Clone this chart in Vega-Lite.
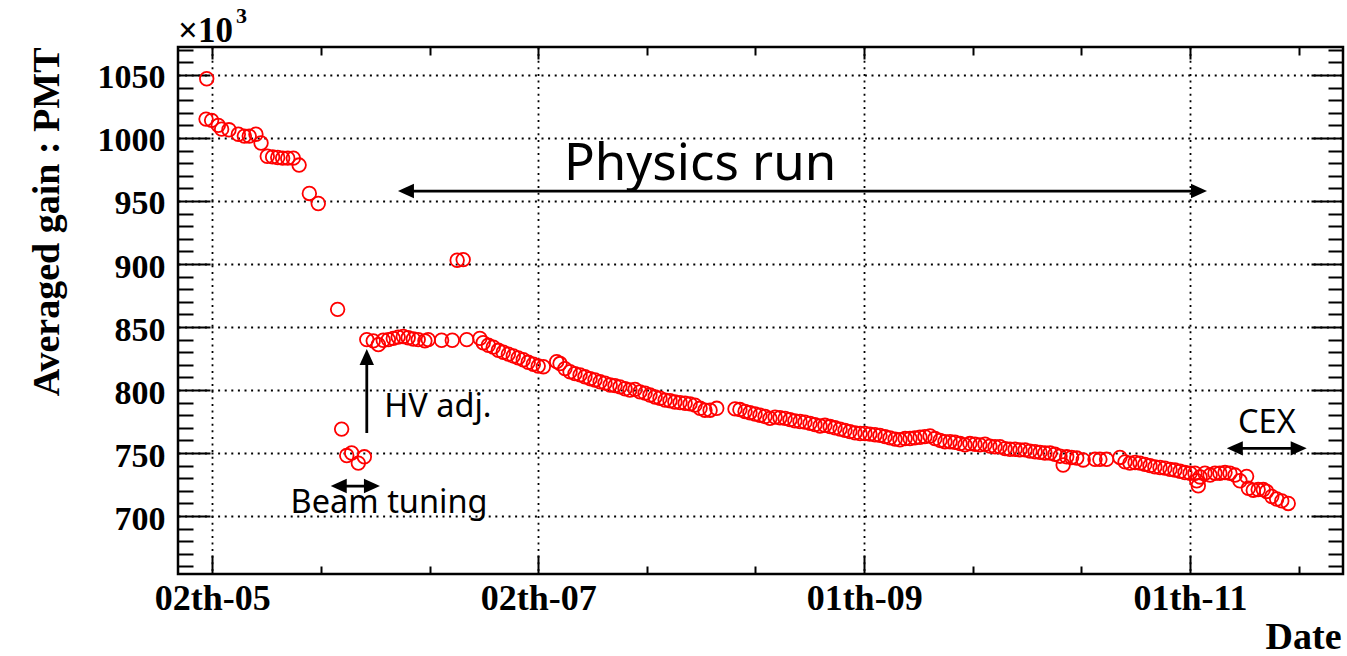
{
  "$schema": "https://vega.github.io/schema/vega-lite/v6.json",
  "width": 1165,
  "height": 527,
  "autosize": {"type": "none"},
  "padding": {"left": 178, "top": 47, "right": 4, "bottom": 82},
  "background": "white",
  "config": {
    "view": {"stroke": "black", "strokeWidth": 2.5, "fill": "white"}
  },
  "datasets": {
    "gain": [
      {"date": "2015-04-30T23:00Z", "gain": 1047},
      {"date": "2015-04-30T20:00Z", "gain": 1015},
      {"date": "2015-05-01T21:00Z", "gain": 1014},
      {"date": "2015-05-03T03:00Z", "gain": 1010},
      {"date": "2015-05-03T18:00Z", "gain": 1007},
      {"date": "2015-05-05T03:00Z", "gain": 1006.5},
      {"date": "2015-05-06T21:00Z", "gain": 1003},
      {"date": "2015-05-08T00:00Z", "gain": 1001.5},
      {"date": "2015-05-08T22:00Z", "gain": 1001.5},
      {"date": "2015-05-10T04:00Z", "gain": 1003},
      {"date": "2015-05-11T03:00Z", "gain": 996},
      {"date": "2015-05-12T07:00Z", "gain": 985.5},
      {"date": "2015-05-13T07:00Z", "gain": 985},
      {"date": "2015-05-14T06:00Z", "gain": 984.5},
      {"date": "2015-05-15T04:00Z", "gain": 984},
      {"date": "2015-05-16T03:00Z", "gain": 984},
      {"date": "2015-05-17T04:00Z", "gain": 984},
      {"date": "2015-05-18T06:00Z", "gain": 978.5},
      {"date": "2015-05-20T04:00Z", "gain": 956},
      {"date": "2015-05-21T20:00Z", "gain": 948},
      {"date": "2015-05-25T11:00Z", "gain": 864},
      {"date": "2015-05-26T05:00Z", "gain": 769},
      {"date": "2015-05-27T04:00Z", "gain": 748},
      {"date": "2015-05-28T02:00Z", "gain": 750},
      {"date": "2015-05-29T08:00Z", "gain": 742},
      {"date": "2015-05-30T11:00Z", "gain": 747},
      {"date": "2015-05-30T22:00Z", "gain": 840},
      {"date": "2015-06-01T03:00Z", "gain": 839},
      {"date": "2015-06-02T02:00Z", "gain": 836},
      {"date": "2015-06-03T00:00Z", "gain": 839.5},
      {"date": "2015-06-03T23:00Z", "gain": 840},
      {"date": "2015-06-04T21:00Z", "gain": 841},
      {"date": "2015-06-05T19:00Z", "gain": 842},
      {"date": "2015-06-06T18:00Z", "gain": 842.5},
      {"date": "2015-06-07T16:00Z", "gain": 841.5},
      {"date": "2015-06-08T15:00Z", "gain": 840.5},
      {"date": "2015-06-09T13:00Z", "gain": 840},
      {"date": "2015-06-10T19:00Z", "gain": 839},
      {"date": "2015-06-11T10:00Z", "gain": 840},
      {"date": "2015-06-13T22:00Z", "gain": 839.5},
      {"date": "2015-06-15T22:00Z", "gain": 839.5},
      {"date": "2015-06-16T20:00Z", "gain": 903},
      {"date": "2015-06-17T23:00Z", "gain": 903.5},
      {"date": "2015-06-18T15:00Z", "gain": 840},
      {"date": "2015-06-21T02:00Z", "gain": 841},
      {"date": "2015-06-21T17:00Z", "gain": 837.5},
      {"date": "2015-06-22T16:00Z", "gain": 835.5},
      {"date": "2015-06-23T14:00Z", "gain": 834},
      {"date": "2015-06-24T13:00Z", "gain": 831.5},
      {"date": "2015-06-25T11:00Z", "gain": 830},
      {"date": "2015-06-26T10:00Z", "gain": 828.5},
      {"date": "2015-06-27T08:00Z", "gain": 827},
      {"date": "2015-06-28T06:00Z", "gain": 825.5},
      {"date": "2015-06-29T05:00Z", "gain": 824},
      {"date": "2015-06-30T03:00Z", "gain": 822},
      {"date": "2015-07-01T02:00Z", "gain": 820.5},
      {"date": "2015-07-02T00:00Z", "gain": 819},
      {"date": "2015-07-02T23:00Z", "gain": 818.5},
      {"date": "2015-07-05T11:00Z", "gain": 822.5},
      {"date": "2015-07-06T02:00Z", "gain": 821},
      {"date": "2015-07-07T00:00Z", "gain": 817},
      {"date": "2015-07-07T23:00Z", "gain": 814.5},
      {"date": "2015-07-08T21:00Z", "gain": 813},
      {"date": "2015-07-09T20:00Z", "gain": 812},
      {"date": "2015-07-10T18:00Z", "gain": 810.5},
      {"date": "2015-07-11T17:00Z", "gain": 809},
      {"date": "2015-07-12T15:00Z", "gain": 808},
      {"date": "2015-07-13T14:00Z", "gain": 806.5},
      {"date": "2015-07-14T12:00Z", "gain": 805.5},
      {"date": "2015-07-15T11:00Z", "gain": 804},
      {"date": "2015-07-16T09:00Z", "gain": 803.5},
      {"date": "2015-07-17T07:00Z", "gain": 802.5},
      {"date": "2015-07-18T06:00Z", "gain": 801},
      {"date": "2015-07-19T04:00Z", "gain": 800},
      {"date": "2015-07-20T03:00Z", "gain": 800.5},
      {"date": "2015-07-21T01:00Z", "gain": 798.5},
      {"date": "2015-07-22T00:00Z", "gain": 797.5},
      {"date": "2015-07-22T22:00Z", "gain": 796},
      {"date": "2015-07-23T21:00Z", "gain": 794.5},
      {"date": "2015-07-24T19:00Z", "gain": 793.5},
      {"date": "2015-07-25T18:00Z", "gain": 792},
      {"date": "2015-07-26T16:00Z", "gain": 791.5},
      {"date": "2015-07-27T14:00Z", "gain": 790.5},
      {"date": "2015-07-28T13:00Z", "gain": 790},
      {"date": "2015-07-29T12:00Z", "gain": 789.5},
      {"date": "2015-07-30T10:00Z", "gain": 789},
      {"date": "2015-07-31T08:00Z", "gain": 788},
      {"date": "2015-08-01T07:00Z", "gain": 785.5},
      {"date": "2015-08-02T05:00Z", "gain": 784},
      {"date": "2015-08-03T04:00Z", "gain": 784},
      {"date": "2015-08-04T10:00Z", "gain": 785.5},
      {"date": "2015-08-07T20:00Z", "gain": 785},
      {"date": "2015-08-08T18:00Z", "gain": 784.5},
      {"date": "2015-08-09T17:00Z", "gain": 783},
      {"date": "2015-08-10T15:00Z", "gain": 782},
      {"date": "2015-08-11T14:00Z", "gain": 781},
      {"date": "2015-08-12T12:00Z", "gain": 780},
      {"date": "2015-08-13T11:00Z", "gain": 779},
      {"date": "2015-08-14T09:00Z", "gain": 777.5},
      {"date": "2015-08-15T08:00Z", "gain": 778.5},
      {"date": "2015-08-16T06:00Z", "gain": 778},
      {"date": "2015-08-17T05:00Z", "gain": 777.5},
      {"date": "2015-08-18T03:00Z", "gain": 776.5},
      {"date": "2015-08-19T01:00Z", "gain": 775.5},
      {"date": "2015-08-20T00:00Z", "gain": 775},
      {"date": "2015-08-20T22:00Z", "gain": 774.5},
      {"date": "2015-08-21T21:00Z", "gain": 773.5},
      {"date": "2015-08-22T19:00Z", "gain": 772.5},
      {"date": "2015-08-23T18:00Z", "gain": 771.5},
      {"date": "2015-08-24T16:00Z", "gain": 772},
      {"date": "2015-08-25T15:00Z", "gain": 771},
      {"date": "2015-08-26T13:00Z", "gain": 770},
      {"date": "2015-08-27T12:00Z", "gain": 769},
      {"date": "2015-08-28T10:00Z", "gain": 768},
      {"date": "2015-08-29T08:00Z", "gain": 767},
      {"date": "2015-08-30T07:00Z", "gain": 766},
      {"date": "2015-08-31T06:00Z", "gain": 765.5},
      {"date": "2015-09-01T04:00Z", "gain": 765.5},
      {"date": "2015-09-02T02:00Z", "gain": 765},
      {"date": "2015-09-03T01:00Z", "gain": 764.5},
      {"date": "2015-09-03T23:00Z", "gain": 764},
      {"date": "2015-09-04T22:00Z", "gain": 763},
      {"date": "2015-09-05T20:00Z", "gain": 762},
      {"date": "2015-09-06T19:00Z", "gain": 761},
      {"date": "2015-09-07T17:00Z", "gain": 760.5},
      {"date": "2015-09-08T16:00Z", "gain": 761.5},
      {"date": "2015-09-09T14:00Z", "gain": 761.5},
      {"date": "2015-09-10T12:00Z", "gain": 762},
      {"date": "2015-09-11T11:00Z", "gain": 762.5},
      {"date": "2015-09-12T09:00Z", "gain": 763},
      {"date": "2015-09-13T08:00Z", "gain": 763.5},
      {"date": "2015-09-14T06:00Z", "gain": 761.5},
      {"date": "2015-09-15T05:00Z", "gain": 760},
      {"date": "2015-09-16T03:00Z", "gain": 759},
      {"date": "2015-09-17T02:00Z", "gain": 759},
      {"date": "2015-09-18T00:00Z", "gain": 758.5},
      {"date": "2015-09-18T23:00Z", "gain": 757.5},
      {"date": "2015-09-19T21:00Z", "gain": 756.5},
      {"date": "2015-09-20T19:00Z", "gain": 757.5},
      {"date": "2015-09-21T18:00Z", "gain": 757},
      {"date": "2015-09-22T16:00Z", "gain": 756.5},
      {"date": "2015-09-23T15:00Z", "gain": 757},
      {"date": "2015-09-24T13:00Z", "gain": 755.5},
      {"date": "2015-09-25T12:00Z", "gain": 755},
      {"date": "2015-09-26T10:00Z", "gain": 755},
      {"date": "2015-09-27T09:00Z", "gain": 753.5},
      {"date": "2015-09-28T07:00Z", "gain": 753},
      {"date": "2015-09-29T06:00Z", "gain": 753},
      {"date": "2015-09-30T04:00Z", "gain": 752.5},
      {"date": "2015-10-01T03:00Z", "gain": 752.5},
      {"date": "2015-10-02T01:00Z", "gain": 751.5},
      {"date": "2015-10-03T00:00Z", "gain": 751},
      {"date": "2015-10-03T22:00Z", "gain": 750.5},
      {"date": "2015-10-04T20:00Z", "gain": 750},
      {"date": "2015-10-05T19:00Z", "gain": 750},
      {"date": "2015-10-06T17:00Z", "gain": 749},
      {"date": "2015-10-07T16:00Z", "gain": 747.5},
      {"date": "2015-10-08T06:00Z", "gain": 740.5},
      {"date": "2015-10-08T22:00Z", "gain": 747},
      {"date": "2015-10-09T20:00Z", "gain": 746.5},
      {"date": "2015-10-10T19:00Z", "gain": 746},
      {"date": "2015-10-12T00:00Z", "gain": 744.5},
      {"date": "2015-10-14T05:00Z", "gain": 745},
      {"date": "2015-10-15T03:00Z", "gain": 745},
      {"date": "2015-10-16T09:00Z", "gain": 745},
      {"date": "2015-10-18T21:00Z", "gain": 746.5},
      {"date": "2015-10-19T20:00Z", "gain": 743},
      {"date": "2015-10-20T18:00Z", "gain": 742},
      {"date": "2015-10-21T17:00Z", "gain": 742.5},
      {"date": "2015-10-22T15:00Z", "gain": 742},
      {"date": "2015-10-23T13:00Z", "gain": 741},
      {"date": "2015-10-24T12:00Z", "gain": 740},
      {"date": "2015-10-25T10:00Z", "gain": 739},
      {"date": "2015-10-26T09:00Z", "gain": 738.5},
      {"date": "2015-10-27T07:00Z", "gain": 738},
      {"date": "2015-10-28T06:00Z", "gain": 737},
      {"date": "2015-10-29T04:00Z", "gain": 736.5},
      {"date": "2015-10-30T03:00Z", "gain": 735.5},
      {"date": "2015-10-31T01:00Z", "gain": 734.5},
      {"date": "2015-11-01T00:00Z", "gain": 734},
      {"date": "2015-11-01T22:00Z", "gain": 734},
      {"date": "2015-11-02T06:00Z", "gain": 728},
      {"date": "2015-11-02T13:00Z", "gain": 724},
      {"date": "2015-11-02T21:00Z", "gain": 731},
      {"date": "2015-11-03T19:00Z", "gain": 734},
      {"date": "2015-11-04T18:00Z", "gain": 732.5},
      {"date": "2015-11-05T16:00Z", "gain": 734},
      {"date": "2015-11-06T14:00Z", "gain": 734},
      {"date": "2015-11-07T13:00Z", "gain": 734.5},
      {"date": "2015-11-08T11:00Z", "gain": 734},
      {"date": "2015-11-09T10:00Z", "gain": 732.5},
      {"date": "2015-11-10T08:00Z", "gain": 728},
      {"date": "2015-11-11T14:00Z", "gain": 731.5},
      {"date": "2015-11-11T22:00Z", "gain": 722},
      {"date": "2015-11-12T20:00Z", "gain": 720.5},
      {"date": "2015-11-13T18:00Z", "gain": 721},
      {"date": "2015-11-14T17:00Z", "gain": 721},
      {"date": "2015-11-15T08:00Z", "gain": 719.5},
      {"date": "2015-11-16T07:00Z", "gain": 715.5},
      {"date": "2015-11-17T05:00Z", "gain": 713.5},
      {"date": "2015-11-18T04:00Z", "gain": 712},
      {"date": "2015-11-19T09:00Z", "gain": 710}
    ],
    "arrowLines": [
      {"start": "2015-06-07T06:00Z", "end": "2015-11-02T16:00Z", "low": 957.9, "high": 957.9},
      {"start": "2015-05-25T16:00Z", "end": "2015-05-31T21:00Z", "low": 723.8, "high": 723.8},
      {"start": "2015-11-09T09:00Z", "end": "2015-11-21T08:00Z", "low": 753.7, "high": 753.7},
      {"start": "2015-05-30T22:00Z", "end": "2015-05-30T22:00Z", "low": 765.9, "high": 826.2}
    ],
    "arrowHeads": [
      {"date": "2015-06-05T18:00Z", "value": 957.9, "dir": "left"},
      {"date": "2015-11-04T04:00Z", "value": 957.9, "dir": "right"},
      {"date": "2015-05-24T04:00Z", "value": 723.8, "dir": "left"},
      {"date": "2015-06-02T09:00Z", "value": 723.8, "dir": "right"},
      {"date": "2015-11-07T21:00Z", "value": 753.7, "dir": "left"},
      {"date": "2015-11-22T20:00Z", "value": 753.7, "dir": "right"},
      {"date": "2015-05-30T22:00Z", "value": 832.5, "dir": "up"}
    ],
    "notes": [
      {"date": "2015-06-13T05:00Z", "value": 778.8, "label": "HV adj."},
      {"date": "2015-06-04T02:00Z", "value": 702.1, "label": "Beam tuning"},
      {"date": "2015-11-15T09:00Z", "value": 765.6, "label": "CEX"}
    ],
    "headline": [
      {"date": "2015-08-01T07:00Z", "value": 966.7, "label": "Physics run"}
    ],
    "multiplier": [
      {"date": "2015-04-25T14:00Z", "value": 1072.2, "base": "×10", "power": "3"}
    ]
  },
  "resolve": {"axis": {"x": "independent", "y": "independent"}},
  "layer": [
    {
      "data": {"name": "gain"},
      "mark": {"type": "point", "shape": "circle", "filled": false, "stroke": "#ff0000", "strokeWidth": 1.8, "size": 185, "opacity": 1},
      "encoding": {
        "x": {
          "field": "date", "type": "temporal",
          "scale": {"type": "utc", "nice": false, "domain": [{"year": 2015, "month": 4, "date": 25, "hours": 14, "utc": true}, {"year": 2015, "month": 11, "date": 29, "hours": 15, "utc": true}]},
          "axis": {
            "orient": "bottom",
            "values": [
              {"year": 2015, "month": 5, "date": 2, "hours": 0, "utc": true},
              {"year": 2015, "month": 5, "date": 22, "hours": 8, "utc": true},
              {"year": 2015, "month": 6, "date": 11, "hours": 16, "utc": true},
              {"year": 2015, "month": 7, "date": 2, "hours": 0, "utc": true},
              {"year": 2015, "month": 7, "date": 22, "hours": 8, "utc": true},
              {"year": 2015, "month": 8, "date": 11, "hours": 16, "utc": true},
              {"year": 2015, "month": 9, "date": 1, "hours": 0, "utc": true},
              {"year": 2015, "month": 9, "date": 21, "hours": 8, "utc": true},
              {"year": 2015, "month": 10, "date": 11, "hours": 16, "utc": true},
              {"year": 2015, "month": 11, "date": 1, "hours": 0, "utc": true},
              {"year": 2015, "month": 11, "date": 21, "hours": 8, "utc": true}
            ],
            "labelExpr": "utchours(datum.value) === 0 ? utcFormat(datum.value, '%d') + 'th-' + utcFormat(datum.value, '%m') : ''",
            "labelFont": "Liberation Serif", "labelFontWeight": "bold", "labelFontSize": 36, "labelColor": "black",
            "labelPadding": 26.5, "labelOverlap": false, "labelFlush": false, "labelBound": false,
            "title": "Date",
            "titleFont": "Liberation Serif", "titleFontWeight": "bold", "titleFontSize": 38, "titleColor": "black",
            "titleAlign": "right", "titleBaseline": "alphabetic", "titleX": 1163, "titleY": 74,
            "domain": false, "ticks": true, "tickColor": "black", "tickWidth": 2,
            "tickSize": {"condition": {"test": "utchours(datum.value) === 0", "value": -19}, "value": -8},
            "grid": true, "gridColor": "black", "gridWidth": 1.8, "gridDash": [2, 4.6],
            "gridOpacity": {"condition": {"test": "utchours(datum.value) === 0", "value": 1}, "value": 0}
          }
        },
        "y": {
          "field": "gain", "type": "quantitative",
          "scale": {"domain": [654, 1072.2], "nice": false, "zero": false},
          "axis": {
            "orient": "left",
            "values": [660, 670, 680, 690, 700, 710, 720, 730, 740, 750, 760, 770, 780, 790, 800, 810, 820, 830, 840, 850, 860, 870, 880, 890, 900, 910, 920, 930, 940, 950, 960, 970, 980, 990, 1000, 1010, 1020, 1030, 1040, 1050, 1060, 1070],
            "format": "d",
            "labelExpr": "datum.value % 50 === 0 ? datum.label : ''",
            "labelFont": "Liberation Serif", "labelFontWeight": "bold", "labelFontSize": 34, "labelColor": "black",
            "labelPadding": 45, "labelOffset": 3, "labelOverlap": false, "labelBound": false, "labelFlush": false,
            "title": "Averaged gain : PMT",
            "titleFont": "Liberation Serif", "titleFontWeight": "bold", "titleFontSize": 38, "titleColor": "black",
            "titleAngle": 270, "titleAlign": "right", "titleBaseline": "alphabetic", "titleX": -120, "titleY": 0,
            "domain": false, "ticks": true, "tickColor": "black", "tickWidth": 2,
            "tickSize": {"condition": {"test": "datum.value % 50 === 0", "value": -32}, "value": -15},
            "grid": true, "gridColor": "black", "gridWidth": 1.8, "gridDash": [2, 4.6],
            "gridOpacity": {"condition": {"test": "datum.value % 50 === 0", "value": 1}, "value": 0}
          }
        }
      }
    },
    {
      "data": {"name": "gain"},
      "mark": {"type": "point", "opacity": 0},
      "encoding": {
        "x": {
          "field": "date", "type": "temporal",
          "scale": {"type": "utc", "nice": false, "domain": [{"year": 2015, "month": 4, "date": 25, "hours": 14, "utc": true}, {"year": 2015, "month": 11, "date": 29, "hours": 15, "utc": true}]},
          "axis": {
            "orient": "top",
            "values": [
              {"year": 2015, "month": 5, "date": 2, "hours": 0, "utc": true},
              {"year": 2015, "month": 5, "date": 22, "hours": 8, "utc": true},
              {"year": 2015, "month": 6, "date": 11, "hours": 16, "utc": true},
              {"year": 2015, "month": 7, "date": 2, "hours": 0, "utc": true},
              {"year": 2015, "month": 7, "date": 22, "hours": 8, "utc": true},
              {"year": 2015, "month": 8, "date": 11, "hours": 16, "utc": true},
              {"year": 2015, "month": 9, "date": 1, "hours": 0, "utc": true},
              {"year": 2015, "month": 9, "date": 21, "hours": 8, "utc": true},
              {"year": 2015, "month": 10, "date": 11, "hours": 16, "utc": true},
              {"year": 2015, "month": 11, "date": 1, "hours": 0, "utc": true},
              {"year": 2015, "month": 11, "date": 21, "hours": 8, "utc": true}
            ],
            "labels": false, "title": null, "domain": false, "grid": false,
            "ticks": true, "tickColor": "black", "tickWidth": 2,
            "tickSize": {"condition": {"test": "utchours(datum.value) === 0", "value": -12}, "value": -8}
          }
        },
        "y": {
          "field": "gain", "type": "quantitative",
          "scale": {"domain": [654, 1072.2], "nice": false, "zero": false},
          "axis": {
            "orient": "right",
            "values": [660, 670, 680, 690, 700, 710, 720, 730, 740, 750, 760, 770, 780, 790, 800, 810, 820, 830, 840, 850, 860, 870, 880, 890, 900, 910, 920, 930, 940, 950, 960, 970, 980, 990, 1000, 1010, 1020, 1030, 1040, 1050, 1060, 1070],
            "labels": false, "title": null, "domain": false, "grid": false,
            "ticks": true, "tickColor": "black", "tickWidth": 2,
            "tickSize": {"condition": {"test": "datum.value % 50 === 0", "value": -32}, "value": -15}
          }
        }
      }
    },
    {
      "data": {"name": "arrowLines", "format": {"parse": {"start": "date", "end": "date"}}},
      "mark": {"type": "rule", "color": "black", "strokeWidth": 2.8},
      "encoding": {
        "x": {"field": "start", "type": "temporal", "scale": {"type": "utc", "nice": false, "domain": [{"year": 2015, "month": 4, "date": 25, "hours": 14, "utc": true}, {"year": 2015, "month": 11, "date": 29, "hours": 15, "utc": true}]}, "axis": null},
        "x2": {"field": "end"},
        "y": {"field": "low", "type": "quantitative", "scale": {"domain": [654, 1072.2], "nice": false, "zero": false}, "axis": null},
        "y2": {"field": "high"}
      }
    },
    {
      "data": {"name": "arrowHeads"},
      "mark": {"type": "point", "filled": true, "color": "black", "opacity": 1, "size": 64, "strokeWidth": 0},
      "encoding": {
        "x": {"field": "date", "type": "temporal", "scale": {"type": "utc", "nice": false, "domain": [{"year": 2015, "month": 4, "date": 25, "hours": 14, "utc": true}, {"year": 2015, "month": 11, "date": 29, "hours": 15, "utc": true}]}, "axis": null},
        "y": {"field": "value", "type": "quantitative", "scale": {"domain": [654, 1072.2], "nice": false, "zero": false}, "axis": null},
        "shape": {
          "field": "dir", "type": "nominal", "legend": null,
          "scale": {"domain": ["left", "right", "up"], "range": ["M0,0L4,-1.8L4,1.8Z", "M0,0L-4,-1.8L-4,1.8Z", "M0,0L-1.8,4L1.8,4Z"]}
        }
      }
    },
    {
      "data": {"name": "notes"},
      "mark": {"type": "text", "font": "Noto Sans", "fontSize": 32.5, "color": "black", "align": "center", "baseline": "alphabetic"},
      "encoding": {
        "x": {"field": "date", "type": "temporal", "scale": {"type": "utc", "nice": false, "domain": [{"year": 2015, "month": 4, "date": 25, "hours": 14, "utc": true}, {"year": 2015, "month": 11, "date": 29, "hours": 15, "utc": true}]}, "axis": null},
        "y": {"field": "value", "type": "quantitative", "scale": {"domain": [654, 1072.2], "nice": false, "zero": false}, "axis": null},
        "text": {"field": "label"}
      }
    },
    {
      "data": {"name": "headline"},
      "mark": {"type": "text", "font": "Noto Sans", "fontSize": 51, "color": "black", "align": "center", "baseline": "alphabetic"},
      "encoding": {
        "x": {"field": "date", "type": "temporal", "scale": {"type": "utc", "nice": false, "domain": [{"year": 2015, "month": 4, "date": 25, "hours": 14, "utc": true}, {"year": 2015, "month": 11, "date": 29, "hours": 15, "utc": true}]}, "axis": null},
        "y": {"field": "value", "type": "quantitative", "scale": {"domain": [654, 1072.2], "nice": false, "zero": false}, "axis": null},
        "text": {"field": "label"}
      }
    },
    {
      "data": {"name": "multiplier"},
      "mark": {"type": "text", "font": "Liberation Serif", "fontWeight": "bold", "fontSize": 35, "color": "black", "align": "left", "baseline": "alphabetic", "dy": -5},
      "encoding": {
        "x": {"field": "date", "type": "temporal", "scale": {"type": "utc", "nice": false, "domain": [{"year": 2015, "month": 4, "date": 25, "hours": 14, "utc": true}, {"year": 2015, "month": 11, "date": 29, "hours": 15, "utc": true}]}, "axis": null},
        "y": {"field": "value", "type": "quantitative", "scale": {"domain": [654, 1072.2], "nice": false, "zero": false}, "axis": null},
        "text": {"field": "base"}
      }
    },
    {
      "data": {"name": "multiplier"},
      "mark": {"type": "text", "font": "Liberation Serif", "fontWeight": "bold", "fontSize": 22, "color": "black", "align": "left", "baseline": "alphabetic", "dx": 58, "dy": -24},
      "encoding": {
        "x": {"field": "date", "type": "temporal", "scale": {"type": "utc", "nice": false, "domain": [{"year": 2015, "month": 4, "date": 25, "hours": 14, "utc": true}, {"year": 2015, "month": 11, "date": 29, "hours": 15, "utc": true}]}, "axis": null},
        "y": {"field": "value", "type": "quantitative", "scale": {"domain": [654, 1072.2], "nice": false, "zero": false}, "axis": null},
        "text": {"field": "power"}
      }
    }
  ]
}
